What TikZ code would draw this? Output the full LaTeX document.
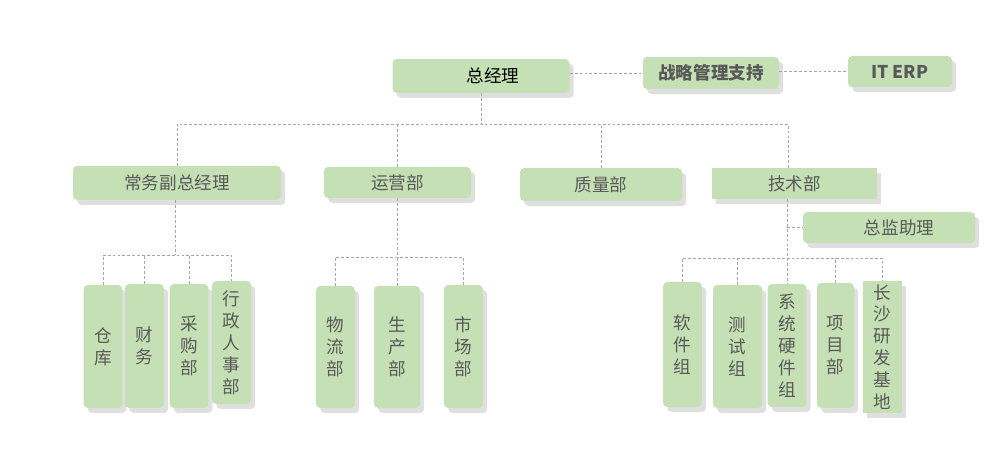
\documentclass[tikz,border=0pt]{standalone}
\usepackage{fontspec}
\setmainfont{Noto Sans CJK SC}
\usepackage{tikz}
\usetikzlibrary{positioning,calc,shadows}
\definecolor{cGreen}{HTML}{C5E0B4}
\definecolor{cText}{HTML}{595959}
\definecolor{cLine}{HTML}{A6A6A6}
\definecolor{cShadow}{HTML}{7F7F7F}

\begin{document}
\begin{tikzpicture}[
  font=\fontsize{12.5}{15.6}\selectfont,
  box/.style={fill=cGreen, rounded corners=3pt, text=cText, inner sep=0pt,
              align=center,
              drop shadow={shadow xshift=3pt, shadow yshift=-3.5pt, fill=cShadow, opacity=0.25}},
  topbox/.style={box, font=\fontsize{12.5}{15.6}\selectfont\bfseries},
  vbox/.style={box, minimum width=0.97cm},
  link/.style={draw=cLine, line width=0.6pt, dash pattern=on 2pt off 1.5pt},
]
\useasboundingbox (0,0) rectangle (25.1,-11.725);

% ---- top level
\node[box, text=black, minimum width=4.425cm, minimum height=0.85cm] (gm) at (12.025,-1.9) {\hspace{0.6cm}总经理};
\node[topbox, minimum width=3.4cm, minimum height=0.8cm] (strat) at (17.775,-1.825) {战略管理支持};
\node[topbox, minimum width=2.6cm, minimum height=0.775cm] (erp) at (22.5,-1.7875) {IT ERP};
\draw[link] (gm.east |- strat.west) -- (strat.west);
\draw[link] (strat.east |- erp.west) -- (erp.west);

% ---- departments
\node[box, minimum width=5.2cm, minimum height=0.85cm] (vp) at (4.425,-4.575) {常务副总经理};
\node[box, minimum width=3.675cm, minimum height=0.775cm] (ops) at (9.9375,-4.5625) {运营部};
\node[box, minimum width=4.05cm, minimum height=0.825cm] (qa) at (15.025,-4.6125) {质量部};
\node[box, rounded corners=0pt, minimum width=4.125cm, minimum height=0.775cm] (tech) at (19.8625,-4.5875) {技术部};
\node[box, minimum width=4.3cm, minimum height=0.775cm] (asst) at (22.225,-5.6875) {\hspace{0.5cm}总监助理};
\coordinate (bus) at (12.025,-3.1);
\coordinate (techtop) at (19.7,-4.2);
\draw[link] (gm.south) -- (bus);
\draw[link] (vp.north) |- (bus) -| (techtop);
\draw[link] (ops.north) -- (ops.north |- bus);
\draw[link] (qa.north) -- (qa.north |- bus);

% ---- under 常务副总经理
\node[vbox, minimum height=3.075cm] (store) at (2.575,-8.6625) {仓\\库};
\node[vbox, minimum height=3.1cm] (fin) at (3.6125,-8.65) {财\\务};
\node[vbox, minimum height=3.1cm] (buy) at (4.725,-8.65) {采\\购\\部};
\node[vbox, minimum height=3.075cm] (hr) at (5.7875,-8.5625) {行\\政\\人\\事\\部};
\coordinate (vpbus) at (4.375,-6.375);
\draw[link] (vpbus |- vp.south) -- (vpbus);
\draw[link] (store.north) |- (vpbus) -| (hr.north);
\draw[link] (fin.north) -- (fin.north |- vpbus);
\draw[link] (buy.north) -- (buy.north |- vpbus);

% ---- under 运营部
\node[vbox, minimum height=3.05cm] (logi) at (8.3875,-8.675) {物\\流\\部};
\node[vbox, minimum width=1.15cm, minimum height=3.05cm] (prod) at (9.925,-8.675) {生\\产\\部};
\node[vbox, minimum height=3.075cm] (mkt) at (11.5875,-8.6625) {市\\场\\部};
\coordinate (opsbus) at (9.9375,-6.425);
\draw[link] (ops.south) -- (opsbus);
\draw[link] (logi.north) |- (opsbus) -| (mkt.north);
\draw[link] (prod.north) -- (prod.north |- opsbus);

% ---- under 技术部
\node[vbox, minimum height=3.125cm] (sw) at (17.0625,-8.6125) {软\\件\\组};
\node[vbox, minimum width=1.225cm, minimum height=3.075cm] (test) at (18.4375,-8.6625) {测\\试\\组};
\node[vbox, minimum height=3.075cm] (hw) at (19.675,-8.6375) {系\\统\\硬\\件\\组};
\node[vbox, minimum width=0.925cm, minimum height=3.125cm] (proj) at (20.8875,-8.6375) {项\\目\\部};
\node[vbox, rounded corners=0pt, minimum height=3.3cm] (cs) at (22.0625,-8.675) {长\\沙\\研\\发\\基\\地};
\coordinate (techbus) at (19.675,-6.45);
\draw[link] (techbus |- tech.south) -- (hw.north);
\draw[link] (techbus |- asst.west) -- (asst.west);
\draw[link] (sw.north) |- (techbus) -| (cs.north);
\draw[link] (test.north) -- (test.north |- techbus);
\draw[link] (proj.north) -- (proj.north |- techbus);
\end{tikzpicture}
\end{document}
